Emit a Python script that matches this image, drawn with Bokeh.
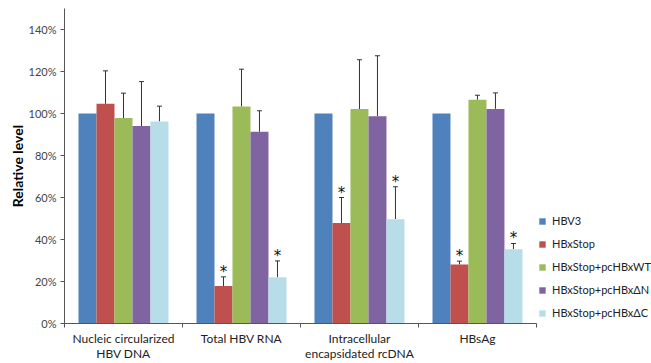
from bokeh.plotting import figure
from bokeh.models import (ColumnDataSource, Whisker, TeeHead, Legend, LegendItem,
                          FixedTicker, NumeralTickFormatter, Range1d)
from bokeh.core.properties import value
from bokeh.embed import file_html
from bokeh.resources import INLINE

categories = ["Nucleic circularized\nHBV DNA", "Total HBV RNA",
              "Intracellular\nencapsidated rcDNA", "HBsAg"]
series = ["HBV3", "HBxStop", "HBxStop+pcHBxWT", "HBxStop+pcHBx\u0394N", "HBxStop+pcHBx\u0394C"]
colors = ["#4F81BD", "#C0504D", "#9BBB59", "#8064A2", "#B7DEE8"]

hbv3 = [1.00, 1.00, 1.00, 1.00]
hbv3_sd = [0.0, 0.0, 0.0, 0.0]
hbxstop = [1.046, 0.178, 0.478, 0.281]
hbxstop_sd = [0.157, 0.044, 0.122, 0.016]
wt = [0.978, 1.033, 1.021, 1.065]
wt_sd = [0.119, 0.178, 0.235, 0.022]
dn = [0.940, 0.913, 0.987, 1.022]
dn_sd = [0.212, 0.100, 0.288, 0.076]
dc = [0.962, 0.220, 0.497, 0.354]
dc_sd = [0.073, 0.078, 0.154, 0.027]
hbxstop_sig = [False, True, True, True]
dc_sig = [False, True, True, True]

all_vals = [hbv3, hbxstop, wt, dn, dc]
all_sd = [hbv3_sd, hbxstop_sd, wt_sd, dn_sd, dc_sd]
all_sig = [[False] * 4, hbxstop_sig, [False] * 4, [False] * 4, dc_sig]

FONT = "Lato"
X_END = 4.975
p = figure(width=651, height=363, output_backend="svg", toolbar_location=None,
           x_range=Range1d(0, X_END), y_range=Range1d(0, 1.5),
           min_border_left=64, min_border_right=0, min_border_top=8, min_border_bottom=20)
p.outline_line_color = None
p.xgrid.grid_line_color = None
p.ygrid.grid_line_color = None

bw = 0.1525
renderers = []
for k, (name, vals, sds, sig) in enumerate(zip(series, all_vals, all_sd, all_sig)):
    off = (k - 2) * bw
    xs = [i + 0.5 + off for i in range(4)]
    src = ColumnDataSource(dict(x=xs, y=vals, upper=[v + s for v, s in zip(vals, sds)],
                                sig_y=[v + s if g else float('nan') for v, s, g in zip(vals, sds, sig)]))
    r = p.vbar(x='x', top='y', width=bw, source=src, fill_color=colors[k], line_color=None)
    renderers.append((name, r))
    if any(s > 0 for s in sds):
        w = Whisker(base='x', upper='upper', lower='y', source=src,
                    line_color="#333333", line_width=1,
                    upper_head=TeeHead(size=5, line_color="#333333", line_width=1), lower_head=None)
        p.add_layout(w)
    if any(sig):
        p.text(x='x', y='sig_y', text=value("*"), source=src, text_align="center",
               text_baseline="middle", y_offset=-5, text_font=value("DejaVu Sans"),
               text_font_size="15px", text_color="#111111")

p.yaxis.ticker = FixedTicker(ticks=[0, 0.2, 0.4, 0.6, 0.8, 1.0, 1.2, 1.4])
p.yaxis.formatter = NumeralTickFormatter(format="0%")
p.yaxis.axis_label = "Relative level"
p.yaxis.axis_label_text_font = FONT
p.yaxis.axis_label_text_font_style = "bold"
p.yaxis.axis_label_text_font_size = "14px"
p.yaxis.axis_label_text_color = "#000000"
p.yaxis.axis_label_standoff = 0
p.yaxis.major_label_text_font = FONT
p.yaxis.major_label_text_font_size = "11px"
p.yaxis.major_label_text_color = "#444444"
p.yaxis.major_label_standoff = 4
p.yaxis.major_tick_out = 4
p.yaxis.major_tick_in = 0
p.yaxis.minor_tick_line_color = None
p.yaxis.axis_line_color = "#555555"
p.yaxis.major_tick_line_color = "#555555"

p.xaxis.bounds = (0, 4)
p.xaxis.ticker = FixedTicker(ticks=[0.5, 1.5, 2.5, 3.5], minor_ticks=[0, 1, 2, 3, 4])
p.xaxis.major_label_overrides = {i + 0.5: c for i, c in enumerate(categories)}
p.xaxis.major_tick_line_color = None
p.xaxis.major_tick_out = 4
p.xaxis.minor_tick_out = 4
p.xaxis.minor_tick_in = 0
p.xaxis.minor_tick_line_color = "#555555"
p.xaxis.axis_line_color = "#555555"
p.xaxis.major_label_text_font = FONT
p.xaxis.major_label_text_font_size = "12px"
p.xaxis.major_label_text_line_height = 1.0
p.xaxis.major_label_text_color = "#222222"
p.xaxis.major_label_standoff = 3

legend = Legend(items=[LegendItem(label=n, renderers=[r]) for n, r in renderers],
                location=(474, 4), glyph_width=8, glyph_height=8, label_height=12,
                spacing=10, label_text_font=FONT, label_text_font_size="11px",
                label_text_color="#222222", background_fill_alpha=0, border_line_color=None,
                padding=2, margin=0, label_standoff=6)
p.add_layout(legend, "center")

open("out.html", "w").write(file_html(p, INLINE))
